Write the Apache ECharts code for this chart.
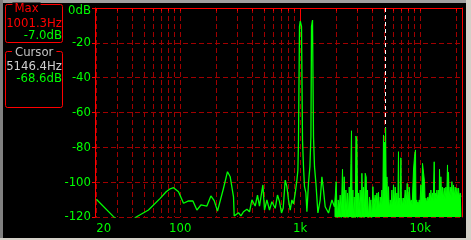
<!DOCTYPE html>
<html>
<head>
<meta charset="utf-8">
<script src="https://cdn.jsdelivr.net/npm/echarts@6/dist/echarts.min.js"></script>
<style>
html,body{margin:0;padding:0;background:#000;}
#c{width:471px;height:240px;}
</style>
</head>
<body>
<div id="c"></div>
<script>
// ---- data (Hz, dB) ----
const lowBand = [
[20,-109.8],[27.8,-119.8],[35,-125],[43,-120],[54.4,-116.0],[68.1,-109.3],[76.4,-105.5],[82.5,-103.8],[88,-103.2],[96.8,-105.5],
[106.6,-112.1],[117.3,-110.7],[127.6,-110.8],[137.8,-116.0],[148.8,-113.1],[166.9,-113.7],[180.2,-107.9],[192,-110.6],[204.6,-116.6],[229.6,-103.5],
[247.8,-94.0],[261,-96.9],[278.1,-108.4],[281.8,-119.4],[306,-117.5],[320.5,-119.4],[336.9,-117.0],[359.7,-115.6],[378,-117.0],[395.9,-110.2],
[421.7,-113.7],[440.7,-107.4],[457.9,-113.7],[488.8,-101.6],[504,-116.0],[527.8,-110.2],[554.8,-116.0],[580.9,-111.2],[619,-115.0],[646.8,-107.4],
[672.2,-111.2],[698.5,-117.7],[721.7,-114.8],[749.9,-98.8],[774.7,-102.6],[798.8,-110.2],[825.4,-116.0],[852.6,-110.2],[879.5,-112.5],[908.5,-106.4],
[938.6,-98.8],[956.8,-93.0],[967.9,-75.8],[986.6,-10.7],[1001.3,-7.5],[1025.3,-10.7],[1045.1,-75.8],[1065.3,-91.1],[1085.9,-102.6],[1115.5,-106.2],
[1137.1,-117.0],[1172.7,-100.5],[1204.7,-91.1],[1228.1,-73.9],[1242.4,-10.7],[1266.1,-6.9],[1290.6,-73.9],[1315.6,-91.1],[1351.4,-100.5],[1404.2,-117.7],
[1467.8,-110.2],[1516.2,-96.9],[1563.3,-104.5],[1615.5,-114.1],[1721.6,-117.7],[1839.1,-110.2],[1930.7,-114.1]
];
const highBand = [
[1930.7,-114.1],[1995,-99.7],[2034,-121],[2073,-110.2],[2114,-116],[2154,-107.4],[2196,-121],[2252,-92.6],[2282,-114],[2326,-96.9],
[2371,-121],[2404,-104.5],[2417,-116],[2478,-106.2],[2512,-121],[2561,-102.8],[2610,-114],[2645,-89.2],[2676,-70.5],[2712,-121],
[2748,-104.5],[2765,-121],[2818,-108.5],[2873,-121],[2912,-73.5],[2969,-75.8],[3015,-121],[3061,-106.2],[3102,-116],[3162,-104.5],
[3224,-121],[3267,-94.9],[3317,-114],[3369,-102.8],[3415,-121],[3481,-94.9],[3548,-97.0],[3596,-116],[3638,-104.5],[3687,-121],
[3780,-108.5],[3831,-114],[3883,-110.2],[3944,-121],[4036,-102.6],[4097,-114],[4217,-107.4],[4274,-116],[4357,-106.2],[4424,-113],
[4493,-105.7],[4553,-116],[4642,-108.5],[4732,-113],[4796,-104.5],[4870,-116],[4945,-72.9],[4993,-113],[5041,-76.9],[5109,-114],
[5146.4,-68.6],[5228,-113],[5278,-97.0],[5360,-114],[5443,-102.6],[5517,-116],[5623,-110.2],[5732,-113],[5810,-104.5],[5900,-116],
[5991,-101.6],[6072,-113],[6190,-102.8],[6310,-114],[6396,-106.2],[6494,-116],[6594,-82.5],[6661,-113],[6722,-109.1],[6813,-114],
[6905,-86.0],[6975,-113],[7039,-109.1],[7147,-114],[7258,-109.1],[7356,-113],[7499,-104.5],[7644,-113],[7792,-100.7],[7943,-113],
[8097,-102.8],[8254,-112],[8414,-110.2],[8577,-113],[8794,-93.0],[8964,-85.4],[9138,-81.5],[9226,-113],[9348,-110.2],[9474,-113],
[9566,-111.4],[9679,-113],[9810,-110.2],[9943,-113],[10135,-101.6],[10292,-112],[10451,-89.2],[10654,-88.3],[10860,-99.7],[11007,-112],
[11149,-109.1],[11328,-112],[11592,-108.5],[11771,-111],[11953,-106.2],[12115,-111],[12278,-104.5],[12470,-111],[12662,-106.2],[12833,-111],
[13082,-88.3],[13209,-111],[13335,-106.2],[13594,-110],[13777,-104.5],[13990,-110],[14208,-104.5],[14399,-109],[14483,-92.6],[14678,-109],
[14867,-96.9],[15108,-110],[15340,-102.8],[15548,-110],[15849,-103.4],[16156,-110],[16375,-102.8],[16629,-109],[16885,-90.1],[17049,-109],
[17212,-94.2],[17444,-109],[17783,-102.8],[18127,-109],[18373,-99.7],[18663,-109],[18945,-101.6],[19201,-108.5],[19573,-102.8],[19953,-108.5],
[20222,-103.4],[20535,-108.5],[20853,-103.4],[21135,-108.5],[21544,-106.2],[21840,-108.5],[22050,-108.4]
];
const xTickValues = [20,30,40,50,60,70,80,90,100,200,300,400,500,600,700,800,900,1000,2000,3000,4000,5000,6000,7000,8000,9000,10000,20000];
const xLabelValues = [20,100,1000,10000];
const xLabelText = ['20','100','1k','10k'];
const yMin = -120, yMax = 0, yStep = 20;
const maxMarker = {hz: 1001.3, db: -7.5, hzText: '1001.3Hz', dbText: '-7.0dB'};
const cursorMarker = {hz: 5146.4, db: -68.6, hzText: '5146.4Hz', dbText: '-68.6dB'};

const FONT = "'Liberation Sans Narrow','DejaVu Sans Condensed','Liberation Sans',sans-serif";
const GREEN = '#00ff00', RED = '#ff0000', GRID = '#a00000';

const chart = echarts.init(document.getElementById('c'), null, {renderer:'canvas'});
const xCommon = {type:'log', logBase:10, min:19.5, max:22300};
chart.setOption({
  backgroundColor:'#000',
  animation:false,
  grid:{left:95, top:8, width:367, height:209, containLabel:false},
  xAxis:[
    Object.assign({}, xCommon, {
      position:'bottom',
      axisLine:{show:true, lineStyle:{color:RED, width:1}},
      axisTick:{show:true, inside:false, length:3, lineStyle:{color:RED}, customValues:xTickValues},
      axisLabel:{show:true, color:GREEN, fontFamily:FONT, fontSize:13, margin:5, customValues:xLabelValues,
        alignMinLabel:'left',
        formatter:function(v){ const i = xLabelValues.findIndex(function(x){return Math.abs(x-v)<1e-6*x;}); return i>=0?xLabelText[i]:''; }},
      splitLine:{show:true, lineStyle:{color:GRID, width:1, type:[5,3]}},
      minorTick:{show:false}
    }),
    Object.assign({}, xCommon, {
      position:'top',
      axisLine:{show:true, lineStyle:{color:RED, width:1}},
      axisTick:{show:false}, axisLabel:{show:false}, splitLine:{show:false}
    })
  ],
  yAxis:[
    {type:'value', min:yMin, max:yMax, interval:yStep, position:'left',
      axisLine:{show:true, lineStyle:{color:RED, width:1}},
      axisTick:{show:true, inside:false, length:3, lineStyle:{color:RED}},
      axisLabel:{show:true, color:GREEN, fontFamily:FONT, fontSize:13, margin:4,
        rich:{top:{color:GREEN, fontFamily:FONT, fontSize:13, padding:[6,0,0,0]}},
        formatter:function(v){ return v===0 ? '{top|0dB}' : String(v); }},
      splitLine:{show:true, lineStyle:{color:GRID, width:1, type:[5,3]}}
    },
    {type:'value', min:yMin, max:yMax, interval:yStep, position:'right',
      axisLine:{show:true, lineStyle:{color:RED, width:1}},
      axisTick:{show:false}, axisLabel:{show:false}, splitLine:{show:false}
    }
  ],
  series:[
    {type:'line', xAxisIndex:0, yAxisIndex:0, data:lowBand, showSymbol:false, symbol:'none', clip:true,
      lineStyle:{color:GREEN, width:1.3}, z:3,
      markLine:{silent:true, symbol:['none','none'], label:{show:false}, animation:false,
        data:[
          [{coord:[maxMarker.hz, 0], lineStyle:{color:RED, width:1, type:'solid'}}, {coord:[maxMarker.hz, maxMarker.db]}],
          [{coord:[cursorMarker.hz, 0], lineStyle:{color:'#ffffff', width:1, type:[4,3]}}, {coord:[cursorMarker.hz, cursorMarker.db]}]
        ]}
    },
    {type:'line', xAxisIndex:0, yAxisIndex:0, data:highBand, showSymbol:false, symbol:'none', clip:true,
      lineStyle:{color:GREEN, width:1}, areaStyle:{color:GREEN, opacity:1, origin:'start'}, z:2}
  ],
  graphic:[
    {type:'rect', shape:{x:0,y:0,width:471,height:3}, style:{fill:'#a0a0a0'}, silent:true},
    {type:'rect', shape:{x:0,y:0,width:3,height:240}, style:{fill:'#808080'}, silent:true},
    {type:'rect', shape:{x:466,y:0,width:5,height:240}, style:{fill:'#d4d0c8'}, silent:true},
    {type:'rect', shape:{x:0,y:238,width:471,height:2}, style:{fill:'#d4d0c8'}, silent:true},
    {type:'rect', shape:{x:5.5,y:4.5,width:57,height:38,r:2}, style:{fill:null, stroke:RED, lineWidth:1}, silent:true},
    {type:'rect', shape:{x:5.5,y:51.5,width:57,height:56,r:2}, style:{fill:null, stroke:RED, lineWidth:1}, silent:true},
    {type:'text', x:26.5, y:9, style:{text:'Max', fill:RED, font:'13px '+FONT, align:'center', verticalAlign:'middle', backgroundColor:'#000', padding:[0,2]}, silent:true},
    {type:'text', x:62, y:23.5, style:{text:maxMarker.hzText, fill:RED, font:'13px '+FONT, align:'right', verticalAlign:'middle'}, silent:true},
    {type:'text', x:62, y:36, style:{text:maxMarker.dbText, fill:GREEN, font:'13px '+FONT, align:'right', verticalAlign:'middle'}, silent:true},
    {type:'text', x:34.2, y:53, style:{text:'Cursor', fill:'#c0c0c0', font:'13px '+FONT, align:'center', verticalAlign:'middle', backgroundColor:'#000', padding:[0,3]}, silent:true},
    {type:'text', x:62, y:66.3, style:{text:cursorMarker.hzText, fill:'#d0d0d0', font:'13px '+FONT, align:'right', verticalAlign:'middle'}, silent:true},
    {type:'text', x:62, y:78.8, style:{text:cursorMarker.dbText, fill:GREEN, font:'13px '+FONT, align:'right', verticalAlign:'middle'}, silent:true}
  ]
});
</script>
</body>
</html>
